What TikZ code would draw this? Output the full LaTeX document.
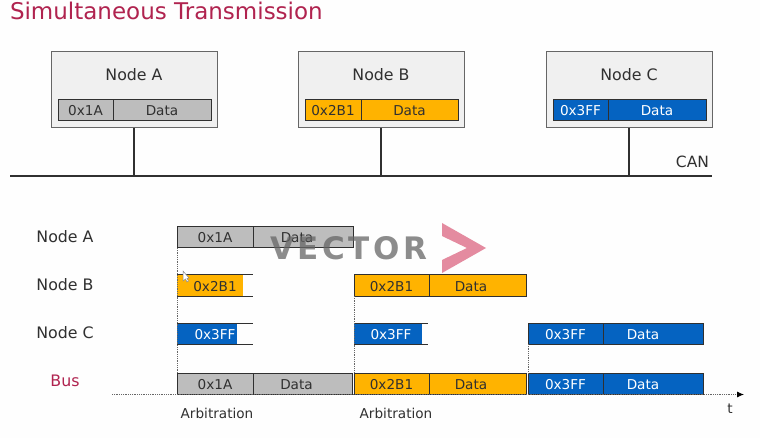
\documentclass[tikz,border=0pt]{standalone}
\usepackage{xcolor}
\usepackage{fontspec}
\usetikzlibrary{arrows.meta}
\setmainfont{DejaVu Sans}
\definecolor{crimson}{HTML}{B0234F}
\definecolor{fieldgray}{HTML}{BDBDBD}
\definecolor{fieldorange}{HTML}{FFB300}
\definecolor{fieldblue}{HTML}{0563C1}
\definecolor{frame}{HTML}{F0F0F0}
\definecolor{ink}{HTML}{303030}
\definecolor{markpink}{HTML}{E48BA0}
\newcommand{\lefttxt}[2]{#1\kern#2pt}
\begin{document}
\begin{tikzpicture}[
  x=1pt, y=-1pt,
  every node/.style={inner sep=0pt, outer sep=0pt, text=ink},
  txt/.style={font=\fontsize{15.8}{18}\selectfont},
  small/.style={font=\fontsize{13.6}{15}\selectfont, text height=11pt, text depth=0pt},
  nodebox/.style={draw=black!60, line width=1pt, fill=frame, minimum width=166pt, minimum height=76pt, anchor=north west},
  field/.style={draw=ink, line width=1pt, small, minimum height=21pt, anchor=north west},
  id/.style={field, minimum width=#1},
  gray/.style={fill=fieldgray},
  amber/.style={fill=fieldorange},
  blue/.style={fill=fieldblue, text=white},
  cut/.style={small, minimum width=76pt, minimum height=21pt, anchor=north west},
  wire/.style={draw=ink, line width=1.4pt},
  edge/.style={draw=ink, line width=1pt},
  guide/.style={draw=black!60, densely dotted, line width=0.8pt}
]
\useasboundingbox (0,0) rectangle (760,438);
\fill[white!99.5!black] (0,0) rectangle (760,438);

\node[anchor=west, text=crimson, font=\fontsize{23}{26}\selectfont] (title) at (10,11) {Simultaneous Transmission};

% nodes on the bus
\node[nodebox] (boxA) at (51,52) {};
\node[nodebox] (boxB) at (298,52) {};
\node[nodebox] (boxC) at (546,52) {};
\node[txt] (nameA) at (134,75) {Node A};
\node[txt] (nameB) at (381,75) {Node B};
\node[txt] (nameC) at (629,75) {Node C};
\node[id=55pt, gray] (idA) at (58,100) {0x1A};
\node[id=98pt, gray] (dataA) at (113,100) {Data};
\node[id=56pt, amber] (idB) at (305,100) {0x2B1};
\node[id=97pt, amber] (dataB) at (361,100) {Data};
\node[id=55pt, blue] (idC) at (553,100) {0x3FF};
\node[id=98pt, blue] (dataC) at (608,100) {Data};

\coordinate (canL) at (10,176);
\coordinate (canR) at (712,176);
\draw[wire] (canL) -- (canR);
\draw[wire] (boxA.south) -- (boxA.south |- canL);
\draw[wire] (boxB.south) -- (boxB.south |- canL);
\draw[wire] (boxC.south) -- (boxC.south |- canL);
\node[font=\fontsize{15.5}{18}\selectfont] (can) at (692.5,162) {CAN};

% timing rows
\node[txt] (rowA) at (65,237) {Node A};
\node[txt] (rowB) at (65,285) {Node B};
\node[txt] (rowC) at (65,333) {Node C};
\node[txt, text=crimson] (rowBus) at (65,381) {Bus};

\node[id=76pt, gray] (a1) at (177,227) {0x1A};
\node[id=100pt, gray] (a2) at (253,227) {\lefttxt{Data}{12}};

\fill[fieldorange] (177,275) rectangle (243,296);
\node[cut] (b1) at (177,275) {0x2B1};
\draw[edge] (b1.north west) -- (b1.north east) (b1.south west) -- (b1.south east);
\node[id=75pt, amber] (b2) at (354,275) {0x2B1};
\node[id=97pt, amber] (b3) at (429,275) {\lefttxt{Data}{13}};

\fill[fieldblue] (177,323) rectangle (237,344);
\node[cut, text=white] (c1) at (177,323) {0x3FF};
\draw[edge] (c1.north west) -- (c1.north east) (c1.south west) -- (c1.south east);
\fill[fieldblue] (354,323) rectangle (422,344);
\node[cut, minimum width=74pt, text=white] (c2) at (354,323) {0x3FF};
\draw[edge] (c2.north west) -- (c2.north east) (c2.south west) -- (c2.south east);
\node[id=75pt, blue] (c3) at (528,323) {0x3FF};
\node[id=100pt, blue] (c4) at (603,323) {\lefttxt{Data}{20}};

\node[id=76pt, gray] (s1) at (177,373) {0x1A};
\node[id=99pt, gray] (s2) at (253,373) {\lefttxt{Data}{12}};
\node[id=75pt, amber] (s3) at (354,373) {0x2B1};
\node[id=97pt, amber] (s4) at (429,373) {\lefttxt{Data}{13}};
\node[id=75pt, blue] (s5) at (528,373) {0x3FF};
\node[id=100pt, blue] (s6) at (603,373) {\lefttxt{Data}{20}};

\draw[guide] (a1.south west) -- (s1.north west);
\draw[guide] (b2.south west) -- (s3.north west);
\draw[guide] (c3.south west) -- (s5.north west);

\coordinate (axisL) at (112,394.5);
\coordinate (axisR) at (744,394.5);
\draw[guide, -{Latex[length=7pt, width=6pt, black]}] (axisL) -- (axisR);
\node[small] (t) at (730,408) {t};
\node[small] (arbA) at (217,413) {Arbitration};
\node[small] (arbB) at (396,413) {Arbitration};

% watermark and cursor
\node[text=black!60, text opacity=0.75, font=\bfseries\fontsize{31}{34}\selectfont] (mark) at (348.5,248.5) {V\kern3.5pt E\kern3.5pt C\kern3.5pt T\kern3.5pt O\kern3.5pt R};
\fill[markpink] (442,223) -- (486,248) -- (442,273) -- (442,260) -- (467,248) -- (442,236) -- cycle;
\draw[black!45, fill=white, line width=0.5pt] (183,271) -- (183,281) -- (185.5,279) -- (187,282) -- (188.5,281) -- (187,278.5) -- (189,278) -- cycle;
\end{tikzpicture}
\end{document}
